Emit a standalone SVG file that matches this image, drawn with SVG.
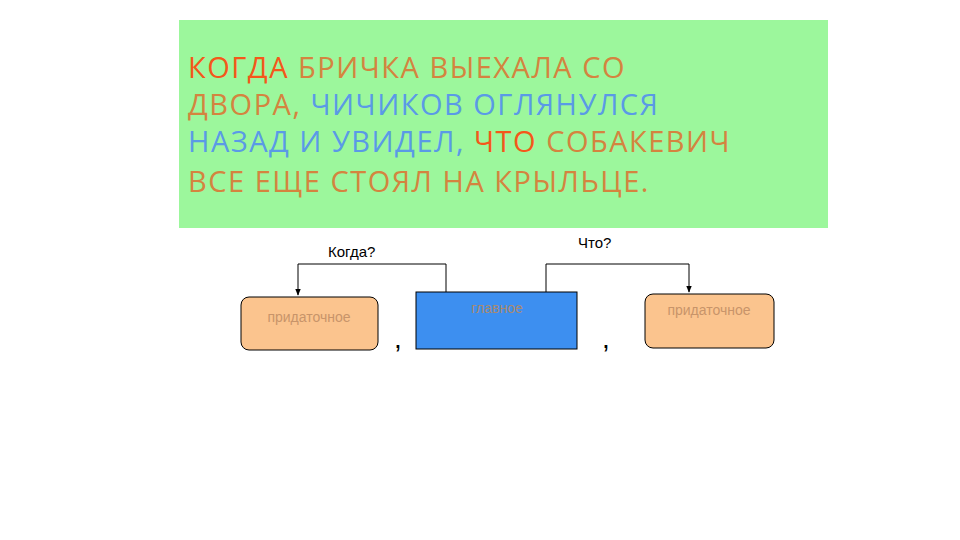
<svg xmlns="http://www.w3.org/2000/svg" width="960" height="540" viewBox="0 0 960 540">
<style>
.t{font-family:"Open Sans","Noto Sans",sans-serif;font-size:29px;letter-spacing:1.5px}
.o{fill:#d4843f}.r{fill:#f4581a}.b{fill:#5a9ae6}
.box{fill:#fbc48e;stroke:#000;stroke-width:1}
.lbl{font-family:"Liberation Sans",Arial,sans-serif;font-size:14px;fill:#c8946a;text-anchor:middle}
.q{font-family:"Liberation Sans Narrow","Liberation Sans",sans-serif;font-size:15px;fill:#000}
.c{fill:none;stroke:#000;stroke-width:1}
</style>
<defs><marker id="a" viewBox="0 0 10 10" refX="9" refY="5" markerWidth="7" markerHeight="7" orient="auto"><path d="M0,1L10,5L0,9z" fill="#000"/></marker></defs>
<rect width="960" height="540" fill="#fff"/>
<g id="sentence">
<rect x="179" y="20" width="649" height="208" fill="#9cf79c"/>
<text class="t" x="188" y="78"><tspan class="r">КОГДА</tspan><tspan class="o"> БРИЧКА ВЫЕХАЛА СО</tspan></text>
<text class="t" x="188" y="115"><tspan class="o">ДВОРА, </tspan><tspan class="b">ЧИЧИКОВ ОГЛЯНУЛСЯ</tspan></text>
<text class="t" x="188" y="152"><tspan class="b">НАЗАД И УВИДЕЛ, </tspan><tspan class="r">ЧТО</tspan><tspan class="o"> СОБАКЕВИЧ</tspan></text>
<text class="t o" x="188" y="192">ВСЕ ЕЩЕ СТОЯЛ НА КРЫЛЬЦЕ.</text>
</g>
<g id="connectors">
<path class="c" d="M446,292V264H298V295" marker-end="url(#a)"/>
<path class="c" d="M546,292V264H689V292" marker-end="url(#a)"/>
<text class="q" x="328" y="257">Когда?</text>
<text class="q" x="578" y="248">Что?</text>
</g>
<g id="left"><rect class="box" x="241" y="297" width="137" height="53" rx="8"/><text class="lbl" x="309" y="322">придаточное</text></g>
<g id="main"><rect x="416" y="292" width="161" height="57" fill="#3d8ff0" stroke="#000"/><text class="lbl" x="497" y="313" fill="#a08870" style="fill:#a88a70">главное</text></g>
<g id="right"><rect class="box" x="645" y="294" width="129" height="54" rx="8"/><text class="lbl" x="709" y="315">придаточное</text></g>
<g id="commas" font-family="Liberation Sans,sans-serif" font-size="28" fill="#000">
<text x="394" y="348">,</text><text x="602" y="348">,</text>
</g>
</svg>
